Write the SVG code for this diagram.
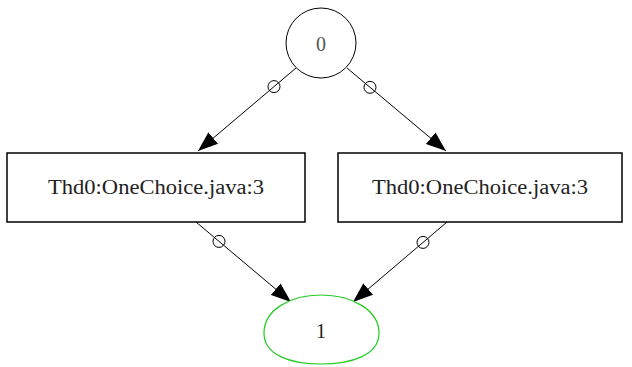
<svg xmlns="http://www.w3.org/2000/svg" width="632" height="367" viewBox="0 0 632 367">
<defs>
<style>
.edge{fill:none;stroke:#000;stroke-width:1}
.odot{fill:none;stroke:#000;stroke-width:1}
.lbl{font-family:"Liberation Serif","Times New Roman",serif;font-size:20px;fill:#222;text-anchor:middle}
.box{fill:#fff;stroke:#000;stroke-width:1.5}
</style>
<marker id="arr" markerUnits="userSpaceOnUse" markerWidth="20" markerHeight="16" viewBox="0 0 16 12" refX="16" refY="6" orient="auto">
<path d="M0,0 L16,6 L0,12 Z" fill="#000"/>
</marker>
</defs>
<rect width="632" height="367" fill="#fff"/>
<g id="edges">
<path class="edge" d="M296,68 L198,151" marker-end="url(#arr)"/>
<circle class="odot" cx="274" cy="86.6" r="6"/>
<path class="edge" d="M347,68 L446,151" marker-end="url(#arr)"/>
<circle class="odot" cx="370" cy="87.3" r="6"/>
<path class="edge" d="M196,222 L291,302" marker-end="url(#arr)"/>
<circle class="odot" cx="219" cy="241.4" r="6"/>
<path class="edge" d="M447,222 L353,302" marker-end="url(#arr)"/>
<circle class="odot" cx="423" cy="242.4" r="6"/>
</g>
<g id="n0">
<circle cx="321" cy="43" r="35" fill="#fff" stroke="#000" stroke-width="1"/>
<text class="lbl" x="321" y="51" fill="#555" style="fill:#555">0</text>
</g>
<g id="nA">
<rect class="box" x="7" y="153" width="298" height="69"/>
<text class="lbl" x="156" y="194" textLength="216" lengthAdjust="spacingAndGlyphs">Thd0:OneChoice.java:3</text>
</g>
<g id="nB">
<rect class="box" x="338" y="153" width="284" height="69"/>
<text class="lbl" x="480" y="194" textLength="216" lengthAdjust="spacingAndGlyphs">Thd0:OneChoice.java:3</text>
</g>
<g id="n1">
<path d="M264,333 C264,310 290,295 321,295 C352,295 379,310 379,333 C379,356 350,364 321,364 C292,364 264,356 264,333 Z" fill="#fff" stroke="#22cc22" stroke-width="1.2"/>
<text class="lbl" x="321" y="338">1</text>
</g>
</svg>
